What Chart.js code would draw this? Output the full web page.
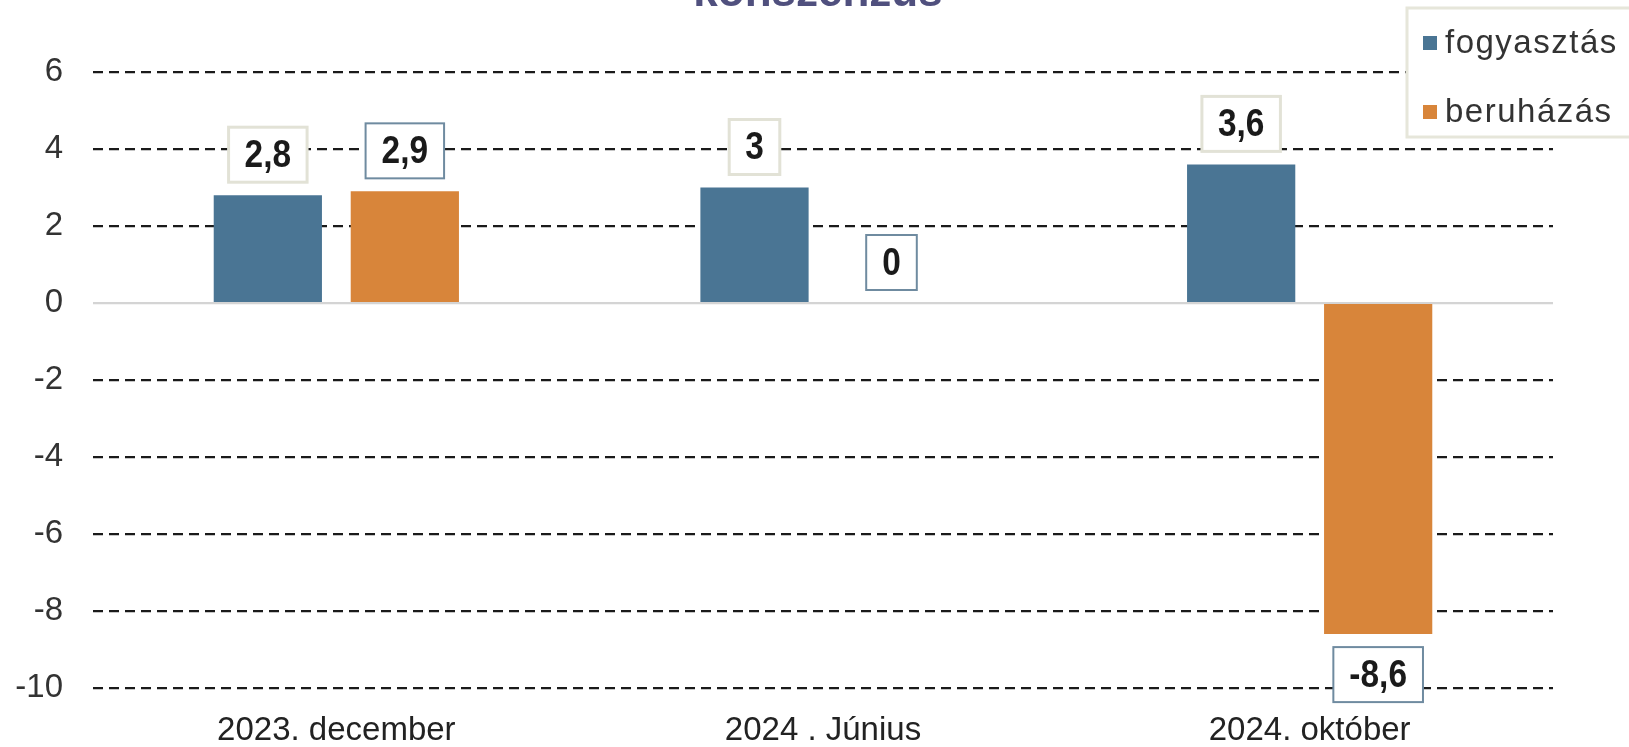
<!DOCTYPE html>
<html>
<head>
<meta charset="utf-8">
<script src="https://cdn.jsdelivr.net/npm/chart.js@4"></script>
<style>
  body { margin: 0; background: #fff; }
  canvas { display: block; }
</style>
</head>
<body>
<canvas id="chart" width="1629" height="747"></canvas>
<script>
const categories = ['2023. december', '2024 . Június', '2024. október'];
const fogyasztas = [2.8, 3, 3.6];
const beruhazas = [2.9, 0, -8.6];
const seriesNames = ['fogyasztás', 'beruházás'];
const yTicks = [-10, -8, -6, -4, -2, 0, 2, 4, 6];
const titleText = 'konszenzus';

const blue = '#4a7594';
const orange = '#d8853a';
const labelBorders = ['#e2e2d6', '#6f8ba0'];

// value labels in boxes above/below each bar (text squeezed a bit, like the original narrow font)
const boxLabels = {
    id: 'boxLabels',
    afterDatasetsDraw(chart) {
        const ctx = chart.ctx;
        const squeeze = 0.88;
        ctx.save();
        ctx.font = 'bold 38px "Liberation Sans", Arial, sans-serif';
        ctx.textAlign = 'center';
        ctx.textBaseline = 'middle';
        chart.data.datasets.forEach((ds, di) => {
            const meta = chart.getDatasetMeta(di);
            meta.data.forEach((bar, i) => {
                const val = ds.data[i];
                const txt = String(val).replace('.', ',');
                const w = ctx.measureText(txt).width * squeeze + 32;
                const h = 55;
                const top = val >= 0 ? bar.y - 13 - h : bar.y + 13;
                ctx.fillStyle = '#fff';
                ctx.fillRect(bar.x - w / 2, top, w, h);
                ctx.strokeStyle = labelBorders[di];
                ctx.lineWidth = di === 0 ? 3 : 2;
                ctx.strokeRect(bar.x - w / 2, top, w, h);
                ctx.save();
                ctx.translate(bar.x, top + h / 2 + 2);
                ctx.scale(squeeze, 1);
                ctx.fillStyle = '#1a1a1a';
                ctx.fillText(txt, 0, 0);
                ctx.restore();
            });
        });
        ctx.restore();
    }
};

// legend box in the top right corner, plus the clipped title
const cornerLegend = {
    id: 'cornerLegend',
    afterDraw(chart) {
        const ctx = chart.ctx;
        ctx.save();
        ctx.fillStyle = '#50507e';
        ctx.font = 'bold 44px "Liberation Sans", Arial, sans-serif';
        ctx.textAlign = 'center';
        ctx.textBaseline = 'alphabetic';
        ctx.fillText(titleText, 818, 6);

        ctx.fillStyle = '#fff';
        ctx.fillRect(1407, 8, 240, 129);
        ctx.strokeStyle = '#e6e6da';
        ctx.lineWidth = 3;
        ctx.strokeRect(1407, 8, 240, 129);
        ctx.font = '33px "Liberation Sans", Arial, sans-serif';
        ctx.letterSpacing = '1.5px';
        ctx.textAlign = 'left';
        ctx.textBaseline = 'middle';
        chart.data.datasets.forEach((ds, i) => {
            const cy = 43 + i * 69;
            ctx.fillStyle = ds.backgroundColor;
            ctx.fillRect(1423, cy - 7, 14, 14);
            ctx.fillStyle = '#333';
            ctx.fillText(ds.label, 1445, cy + 1);
        });
        ctx.restore();
    }
};

new Chart(document.getElementById('chart'), {
    type: 'bar',
    data: {
        labels: categories,
        datasets: [
            { label: seriesNames[0], data: fogyasztas, backgroundColor: blue },
            { label: seriesNames[1], data: beruhazas, backgroundColor: orange }
        ]
    },
    options: {
        responsive: false,
        animation: false,
        layout: { padding: { top: 72, right: 76, bottom: 0, left: 0 } },
        datasets: {
            bar: { categoryPercentage: 0.563, barPercentage: 0.79 }
        },
        plugins: {
            legend: { display: false },
            title: { display: false },
            tooltip: { enabled: false }
        },
        scales: {
            x: {
                grid: { display: false, drawTicks: false },
                border: { display: false },
                ticks: {
                    color: '#222',
                    padding: 23,
                    font: { family: '"Liberation Sans", Arial, sans-serif', size: 33 }
                },
                afterFit(scale) { scale.height = 59; }
            },
            y: {
                min: -10,
                max: 6,
                afterBuildTicks(scale) { scale.ticks = yTicks.map(v => ({ value: v })); },
                grid: {
                    drawTicks: false,
                    lineWidth: 2.2,
                    color: c => c.tick && c.tick.value === 0 ? '#d4d4d4' : '#1a1a1a'
                },
                border: {
                    display: false,
                    dash: c => c.tick && c.tick.value === 0 ? [] : [10, 6]
                },
                ticks: {
                    color: '#333',
                    padding: 30,
                    font: { family: '"Liberation Sans", Arial, sans-serif', size: 33 }
                },
                afterFit(scale) { scale.width = 93; }
            }
        }
    },
    plugins: [boxLabels, cornerLegend]
});
</script>
</body>
</html>
